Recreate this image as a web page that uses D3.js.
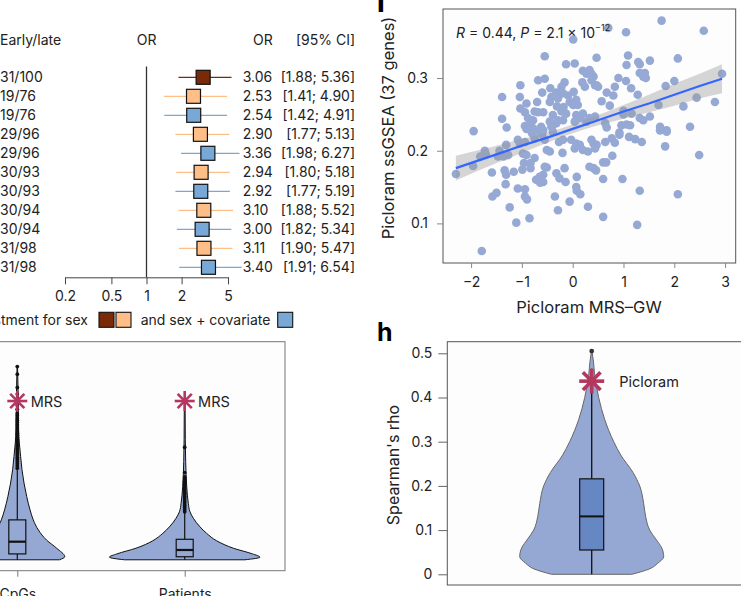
<!DOCTYPE html>
<html><head><meta charset="utf-8">
<script src="https://cdn.jsdelivr.net/npm/d3@7"></script>
<style>body{margin:0;background:#fff}svg{display:block}</style>
</head><body><svg id="c" width="741" height="596"></svg>
<script>
// ---------------- DATA ----------------
const forestLabels = ["31/100","19/76","19/76","29/96","29/96","30/93","30/93","30/94","30/94","31/98","31/98"];
const forestOR = [3.06,2.53,2.54,2.90,3.36,2.94,2.92,3.10,3.00,3.11,3.40];
const forestLo = [1.88,1.41,1.42,1.77,1.98,1.80,1.77,1.88,1.82,1.90,1.91];
const forestHi = [5.36,4.90,4.91,5.13,6.27,5.18,5.19,5.52,5.34,5.47,6.54];
const forestGroup = ["crude","sex","cov","sex","cov","sex","cov","sex","cov","sex","cov"];
const forestTicks = [0.2,0.5,1,2,5];

const violinCats = ["CpGs","Patients"];
// [value, relative density]
const cpgDensity = [[0,0.56],[0.014,0.63],[0.053,0.523],[0.09,0.39],[0.137,0.279],[0.183,0.212],[0.229,0.169],[0.29,0.125],[0.352,0.089],[0.413,0.062],[0.474,0.044],[0.535,0.027],[0.596,0.017],[0.7,0.013],[0.8,0.009],[0.886,0.003]];
const patDensity = [[0,0.8],[0.012,1.0],[0.027,0.9],[0.053,0.647],[0.087,0.425],[0.121,0.292],[0.151,0.203],[0.19,0.116],[0.22,0.07],[0.259,0.048],[0.335,0.027],[0.45,0.013],[0.55,0.008],[0.728,0.005]];
const cpgBox = {q1:0.027, med:0.083, q3:0.183, lo:0, hi:0.417};
const patBox = {q1:0.014, med:0.045, q3:0.094, lo:0, hi:0.214};
const cpgOutliers = [0.42,0.43,0.44,0.45,0.46,0.47,0.48,0.49,0.50,0.51,0.52,0.53,0.54,0.55,0.56,0.57,0.58,0.59,0.60,0.61,0.62,0.63,0.64,0.65,0.66,0.67,0.69,0.71,0.74,0.76,0.79,0.851,0.886];
const patOutliers = [0.22,0.23,0.24,0.25,0.26,0.27,0.28,0.29,0.30,0.31,0.32,0.33,0.34,0.35,0.36,0.37,0.38,0.40,0.516];
const mrsValue = [0.728,0.728];

const scatterPoints = [
[0.01,0.353],[-0.55,0.330],[-0.13,0.319],[0.04,0.320],[0.20,0.310],[0.27,0.306],[0.33,0.311],[0.19,0.294],[0.24,0.288],[-0.16,0.294],[-0.22,0.288],[-0.68,0.297],[-0.55,0.299],[-1.03,0.290],[-0.44,0.286],[-0.32,0.280],[-0.26,0.277],[-0.29,0.272],[-0.19,0.279],[-0.09,0.276],[-0.60,0.280],[-0.42,0.274],[-0.45,0.267],[-0.06,0.267],[0.01,0.263],[0.10,0.263],[0.07,0.270],[0.02,0.281],[-1.04,0.274],[-0.91,0.265],[-0.70,0.267],[-1.39,0.274],[-1.03,0.258],[-0.94,0.253],[-0.75,0.254],[-0.68,0.253],[-0.58,0.253],[-1.39,0.244],[-0.88,0.245],[-0.78,0.242],[-0.39,0.249],[-0.29,0.242],[-0.22,0.254],[-0.13,0.251],[-0.32,0.238],[-0.39,0.235],[-0.19,0.242],[0.07,0.249],[0.14,0.245],[0.20,0.251],[0.04,0.240],[0.27,0.240],[0.33,0.245],[-1.30,0.232],[-0.94,0.234],[-0.85,0.235],[-0.91,0.230],[-0.62,0.233],[-0.58,0.228],[-0.78,0.231],[-0.45,0.240],[-0.42,0.233],[-0.39,0.226],[-1.95,0.227],[-0.31,0.261],[-0.18,0.260],
[0.70,0.369],[1.05,0.363],[1.75,0.379],[2.58,0.365],[0.47,0.328],[1.09,0.331],[1.06,0.318],[1.29,0.322],[1.32,0.319],[1.52,0.324],[2.07,0.327],[1.32,0.307],[1.42,0.307],[1.39,0.302],[1.44,0.300],[0.90,0.300],[1.05,0.296],[0.37,0.306],[0.41,0.302],[0.37,0.297],[0.44,0.290],[0.47,0.290],[0.50,0.288],[0.83,0.288],[0.67,0.280],[0.80,0.276],[1.15,0.286],[1.28,0.277],[1.83,0.289],[2.00,0.296],[2.44,0.273],[2.80,0.267],[2.94,0.306],[2.18,0.261],[1.69,0.263],[0.57,0.268],[0.73,0.262],[1.00,0.255],[1.00,0.250],[1.16,0.251],[1.32,0.245],[1.39,0.242],[1.52,0.247],[0.44,0.247],[0.64,0.238],[0.67,0.232],[0.96,0.235],[1.06,0.236],[1.13,0.235],[0.92,0.225],[1.72,0.233],[1.85,0.228],[2.31,0.233],
[-1.73,0.200],[-1.71,0.195],[-1.44,0.200],[-1.47,0.192],[-1.31,0.208],[-1.36,0.192],[-1.27,0.194],[-1.08,0.215],[-1.04,0.210],[-0.94,0.212],[-0.98,0.196],[-0.91,0.194],[-0.80,0.224],[-0.75,0.217],[-0.65,0.226],[-0.60,0.222],[-0.55,0.215],[-0.51,0.201],[-0.45,0.199],[-0.27,0.212],[-0.19,0.215],[-0.20,0.197],[-0.03,0.215],[0.07,0.210],[0.14,0.208],[0.04,0.203],[0.20,0.201],[0.30,0.199],[0.37,0.215],[-2.30,0.168],[-1.96,0.179],[-1.82,0.192],[-1.59,0.170],[-1.34,0.173],[-1.31,0.167],[-1.16,0.171],[-0.99,0.174],[-0.96,0.183],[-0.83,0.183],[-0.75,0.190],[-0.83,0.176],[-0.55,0.178],[-0.51,0.177],[-0.58,0.167],[-0.65,0.164],[-0.72,0.160],[-0.64,0.156],[-0.58,0.157],[-0.32,0.169],[-0.26,0.162],[-0.14,0.157],[-0.16,0.176],[0.08,0.164],[0.33,0.178],[-1.32,0.154],[-1.08,0.148],[-0.94,0.147],[-1.50,0.142],[-1.58,0.137],[-0.94,0.137],[-0.90,0.133],[-0.35,0.137],[0.07,0.150],[0.08,0.145],[0.15,0.140],[-0.06,0.130],[-0.29,0.118],[0.30,0.123],[-1.24,0.122],[-1.11,0.101],[-0.85,0.107],[-1.79,0.062],
[0.41,0.210],[0.44,0.203],[0.47,0.208],[0.64,0.212],[0.77,0.217],[0.83,0.211],[0.92,0.222],[1.11,0.219],[1.23,0.216],[1.36,0.212],[1.82,0.206],[2.49,0.194],[0.78,0.193],[0.60,0.184],[0.66,0.184],[0.41,0.176],[0.46,0.173],[0.60,0.161],[0.98,0.161],[1.32,0.145],[2.07,0.140],[0.60,0.109],[1.27,0.098],[1.85,0.226],[1.72,0.228]
];
const bandX   = [-2.3,-1.5,-1,-0.5,0,0.5,1,1.5,2,2.5,2.94];
const bandFit = [0.176,0.195,0.207,0.218,0.230,0.242,0.254,0.265,0.277,0.289,0.299];
const bandLo  = [0.159,0.183,0.197,0.211,0.224,0.235,0.244,0.253,0.262,0.272,0.279];
const bandHi  = [0.193,0.207,0.216,0.225,0.236,0.249,0.263,0.277,0.292,0.306,0.319];
const scatterXTicks = [-2,-1,0,1,2,3];
const scatterYTicks = [0.1,0.2,0.3];

// [value, relative density]
const rhoDensity = [[0,0.556],[0.012,0.80],[0.025,0.917],[0.04,1.0],[0.06,0.972],[0.08,0.889],[0.1,0.806],[0.13,0.75],[0.16,0.722],[0.2,0.667],[0.23,0.575],[0.27,0.403],[0.3,0.306],[0.35,0.181],[0.4,0.097],[0.45,0.042],[0.48,0.025],[0.505,0.004]];
const rhoBox = {q1:0.055, med:0.131, q3:0.216, lo:0, hi:0.465};
const rhoOutliers = [0.505];
const picloramRho = 0.437;
const rhoTicks = [0,0.1,0.2,0.3,0.4,0.5];

// ---------------- DRAW ----------------
const FONT = "Inter, Roboto, 'Noto Sans', sans-serif";
const TXT = "#222";
const FS = 14;
const svg = d3.select("#c").style("font-family", FONT);
const groupColors = {crude:"#7b2a08", sex:"#fdbf87", cov:"#78a9d6"};
const STAR = "#b3375f";

function star(g, cx, cy, r, sw){
  [0,45,90,135].forEach(a=>{
    const t=a*Math.PI/180;
    g.append("line").attr("x1",cx-r*Math.cos(t)).attr("y1",cy-r*Math.sin(t))
     .attr("x2",cx+r*Math.cos(t)).attr("y2",cy+r*Math.sin(t))
     .attr("stroke",STAR).attr("stroke-width",sw);
  });
}

// ===== Forest plot =====
const fx = d3.scaleLog().domain([0.2,5]).range([65,228]);
const fy = d3.scalePoint().domain(d3.range(forestLabels.length)).range([77.3,267.3]);
const fg = svg.append("g");
const hdr = [["Early/late",0,"start"],["OR",146.7,"middle"],["OR",253,"start"],["[95% CI]",355,"end"]];
hdr.forEach(h=>fg.append("text").attr("x",h[1]).attr("y",44.5).attr("text-anchor",h[2])
  .attr("font-size",FS).attr("fill",TXT).text(h[0]));
fg.append("line").attr("x1",fx(1)).attr("x2",fx(1)).attr("y1",66.5).attr("y2",277.3)
  .attr("stroke","#333").attr("stroke-width",1.3);
forestLabels.forEach((lab,i)=>{
  const y = fy(i), c = groupColors[forestGroup[i]];
  fg.append("text").attr("x",0).attr("y",y+5).attr("font-size",FS).attr("fill",TXT).text(lab);
  fg.append("line").attr("x1",fx(forestLo[i])).attr("x2",fx(forestHi[i])).attr("y1",y).attr("y2",y)
    .attr("stroke",c).attr("stroke-width",1.3);
  fg.append("rect").attr("x",fx(forestOR[i])-7).attr("y",y-7).attr("width",14).attr("height",14)
    .attr("fill",c).attr("stroke","#111").attr("stroke-width",1.2);
  fg.append("text").attr("x",242.7).attr("y",y+5).attr("font-size",FS).attr("fill",TXT).text(forestOR[i].toFixed(2));
  fg.append("text").attr("x",355).attr("y",y+5).attr("text-anchor","end").attr("font-size",FS).attr("fill",TXT)
    .text(`[${forestLo[i].toFixed(2)}; ${forestHi[i].toFixed(2)}]`);
});
const fax = fg.append("g").attr("transform","translate(0,277.3)")
  .call(d3.axisBottom(fx).tickValues(forestTicks).tickFormat(d=>String(d)).tickSize(7).tickSizeOuter(0).tickPadding(7));
fax.select(".domain").attr("stroke","#444");
fax.selectAll(".tick line").attr("stroke","#444");
fax.selectAll("text").attr("font-size",FS).attr("fill",TXT).attr("font-family",FONT);

// legend
const lg = svg.append("g");
lg.append("text").attr("x",88).attr("y",324.5).attr("text-anchor","end").attr("font-size",FS).attr("fill",TXT).text("Adjustment for sex");
lg.append("rect").attr("x",99).attr("y",312.3).attr("width",15).attr("height",15).attr("fill",groupColors.crude).attr("stroke","#111").attr("stroke-width",1.1);
lg.append("rect").attr("x",116).attr("y",312.3).attr("width",15).attr("height",15).attr("fill",groupColors.sex).attr("stroke","#111").attr("stroke-width",1.1);
lg.append("text").attr("x",140.7).attr("y",324.5).attr("font-size",FS).attr("fill",TXT).text("and sex + covariate");
lg.append("rect").attr("x",277.7).attr("y",312.3).attr("width",15).attr("height",15).attr("fill",groupColors.cov).attr("stroke","#111").attr("stroke-width",1.1);

// ===== Bottom-left violins =====
const vg = svg.append("g");
const vx = d3.scalePoint().domain(violinCats).range([17.3,184.7]);
const vy = d3.scaleLinear().domain([-0.05,1.0]).range([570.7,341.7]);
const vw = d3.scaleLinear().domain([0,1]).range([0,75.3]);
vg.append("rect").attr("x",-2).attr("y",341.7).attr("width",287).attr("height",229)
  .attr("fill","#fdfdfd").attr("stroke","#777").attr("stroke-width",1);
const vax = vg.append("g").attr("transform","translate(0,570.7)")
  .call(d3.axisBottom(vx).tickSize(6).tickSizeOuter(0).tickPadding(12));
vax.select(".domain").remove();
vax.selectAll(".tick line").attr("stroke","#777");
vax.selectAll("text").attr("font-size",FS).attr("fill",TXT).attr("font-family",FONT);
const dens = [cpgDensity, patDensity], boxes=[cpgBox,patBox], outs=[cpgOutliers,patOutliers];
violinCats.forEach((cat,k)=>{
  const cx = vx(cat);
  const area = d3.area().y(d=>vy(d[0])).x0(d=>cx-vw(d[1])).x1(d=>cx+vw(d[1])).curve(d3.curveMonotoneY);
  vg.append("path").attr("d",area(dens[k])).attr("fill","#94a8d3").attr("stroke","#111").attr("stroke-width",1);
  const b = boxes[k];
  vg.append("line").attr("x1",cx).attr("x2",cx).attr("y1",vy(b.lo)).attr("y2",vy(b.q1)).attr("stroke","#111").attr("stroke-width",1.2);
  vg.append("line").attr("x1",cx).attr("x2",cx).attr("y1",vy(b.q3)).attr("y2",vy(b.hi)).attr("stroke","#111").attr("stroke-width",1.2);
  vg.append("rect").attr("x",cx-8.5).attr("y",vy(b.q3)).attr("width",17).attr("height",vy(b.q1)-vy(b.q3))
    .attr("fill","#94a8d3").attr("stroke","#111").attr("stroke-width",1.2);
  vg.append("line").attr("x1",cx-8.5).attr("x2",cx+8.5).attr("y1",vy(b.med)).attr("y2",vy(b.med)).attr("stroke","#111").attr("stroke-width",2.2);
  outs[k].forEach(v=>vg.append("circle").attr("cx",cx).attr("cy",vy(v)).attr("r",1.9).attr("fill","#111"));
  star(vg, cx, vy(mrsValue[k]), 10, 2.6);
  vg.append("text").attr("x",cx+13.4).attr("y",vy(mrsValue[k])+5.5).attr("font-size",FS+0.5).attr("fill",TXT).text("MRS");
});

// ===== Scatter =====
const sg = svg.append("g");
const sx = d3.scaleLinear().domain([-2.553,3.209]).range([443,735.7]);
const sy = d3.scaleLinear().domain([0.0455,0.395]).range([263,9]);
sg.append("rect").attr("x",443).attr("y",9).attr("width",292.7).attr("height",254)
  .attr("fill","#fdfdfd").attr("stroke","#555").attr("stroke-width",1);
sg.selectAll("circle.pt").data(scatterPoints).join("circle").attr("class","pt")
  .attr("cx",d=>sx(d[0])).attr("cy",d=>sy(d[1])).attr("r",4.3).attr("fill","#96a9d5");
const band = d3.area().x((d,i)=>sx(bandX[i])).y0((d,i)=>sy(bandLo[i])).y1((d,i)=>sy(bandHi[i])).curve(d3.curveMonotoneX);
sg.append("path").attr("d",band(bandX)).attr("fill","#999").attr("opacity",0.4);
const fitLine = d3.line().x((d,i)=>sx(bandX[i])).y((d,i)=>sy(bandFit[i]));
sg.append("path").attr("d",fitLine(bandX)).attr("fill","none").attr("stroke","#3366ff").attr("stroke-width",2.2);
const ann = sg.append("text").attr("x",456).attr("y",37.5).attr("font-size",FS).attr("fill",TXT);
ann.append("tspan").attr("font-style","italic").text("R");
ann.append("tspan").text(" = 0.44, ");
ann.append("tspan").attr("font-style","italic").text("P");
ann.append("tspan").text(" = 2.1 × 10");
ann.append("tspan").attr("font-size",9).attr("dy",-7).text("−12");
const sxa = sg.append("g").attr("transform","translate(0,263)")
  .call(d3.axisBottom(sx).tickValues(scatterXTicks).tickFormat(d3.format("d")).tickSize(5).tickSizeOuter(0).tickPadding(9));
sxa.select(".domain").remove();
sxa.selectAll(".tick line").attr("stroke","#888");
sxa.selectAll("text").attr("font-size",FS).attr("fill",TXT).attr("font-family",FONT);
const sya = sg.append("g").attr("transform","translate(443,0)")
  .call(d3.axisLeft(sy).tickValues(scatterYTicks).tickFormat(d3.format(".1f")).tickSize(6).tickSizeOuter(0).tickPadding(9));
sya.select(".domain").remove();
sya.selectAll(".tick line").attr("stroke","#888");
sya.selectAll("text").attr("font-size",FS).attr("fill",TXT).attr("font-family",FONT);
sg.append("text").attr("transform","translate(394,128) rotate(-90)").attr("text-anchor","middle")
  .attr("font-size",16.5).attr("fill",TXT).text("Picloram ssGSEA (37 genes)");
sg.append("text").attr("x",589).attr("y",313).attr("text-anchor","middle")
  .attr("font-size",16.5).attr("fill",TXT).text("Picloram MRS\u2013GW");
svg.append("text").attr("x",375.5).attr("y",12).attr("font-size",30).attr("font-weight","bold").attr("fill","#000").text("f");

// ===== Panel h =====
const hg = svg.append("g");
const hy = d3.scaleLinear().domain([0,0.5]).range([574.3,353.3]);
const hw = d3.scaleLinear().domain([0,1]).range([0,72]);
const hcx = 591.7;
hg.append("rect").attr("x",447.3).attr("y",341.7).attr("width",300).attr("height",243.3)
  .attr("fill","#fdfdfd").attr("stroke","#555").attr("stroke-width",1);
const hya = hg.append("g").attr("transform","translate(447.3,0)")
  .call(d3.axisLeft(hy).tickValues(rhoTicks).tickFormat(d=>d===0?"0":d.toFixed(1)).tickSize(9).tickSizeOuter(0).tickPadding(6));
hya.select(".domain").remove();
hya.selectAll(".tick line").attr("stroke","#666");
hya.selectAll("text").attr("font-size",FS).attr("fill",TXT).attr("font-family",FONT);
const harea = d3.area().y(d=>hy(d[0])).x0(d=>hcx-hw(d[1])).x1(d=>hcx+hw(d[1])).curve(d3.curveMonotoneY);
hg.append("path").attr("d",harea(rhoDensity)).attr("fill","#94a8d3").attr("stroke","#666").attr("stroke-width",1);
hg.append("line").attr("x1",hcx).attr("x2",hcx).attr("y1",hy(rhoBox.lo)).attr("y2",hy(rhoBox.q1)).attr("stroke","#111").attr("stroke-width",1.3);
hg.append("line").attr("x1",hcx).attr("x2",hcx).attr("y1",hy(rhoBox.q3)).attr("y2",hy(rhoBox.hi)).attr("stroke","#111").attr("stroke-width",1.3);
hg.append("rect").attr("x",hcx-12).attr("y",hy(rhoBox.q3)).attr("width",24).attr("height",hy(rhoBox.q1)-hy(rhoBox.q3))
  .attr("fill","#6787c2").attr("stroke","#111").attr("stroke-width",1.2);
hg.append("line").attr("x1",hcx-12).attr("x2",hcx+12).attr("y1",hy(rhoBox.med)).attr("y2",hy(rhoBox.med)).attr("stroke","#111").attr("stroke-width",2);
rhoOutliers.forEach(v=>hg.append("circle").attr("cx",hcx).attr("cy",hy(v)).attr("r",2.4).attr("fill","#333"));
star(hg, hcx, hy(picloramRho), 12.5, 3.6);
hg.append("text").attr("x",619.3).attr("y",hy(picloramRho)+5.5).attr("font-size",FS+0.5).attr("fill",TXT).text("Picloram");
hg.append("text").attr("transform","translate(399,465) rotate(-90)").attr("text-anchor","middle")
  .attr("font-size",16).attr("fill",TXT).text("Spearman's rho");
svg.append("text").attr("x",377).attr("y",341).attr("font-size",25).attr("font-weight","bold").attr("fill","#000").text("h");
</script></body></html>
